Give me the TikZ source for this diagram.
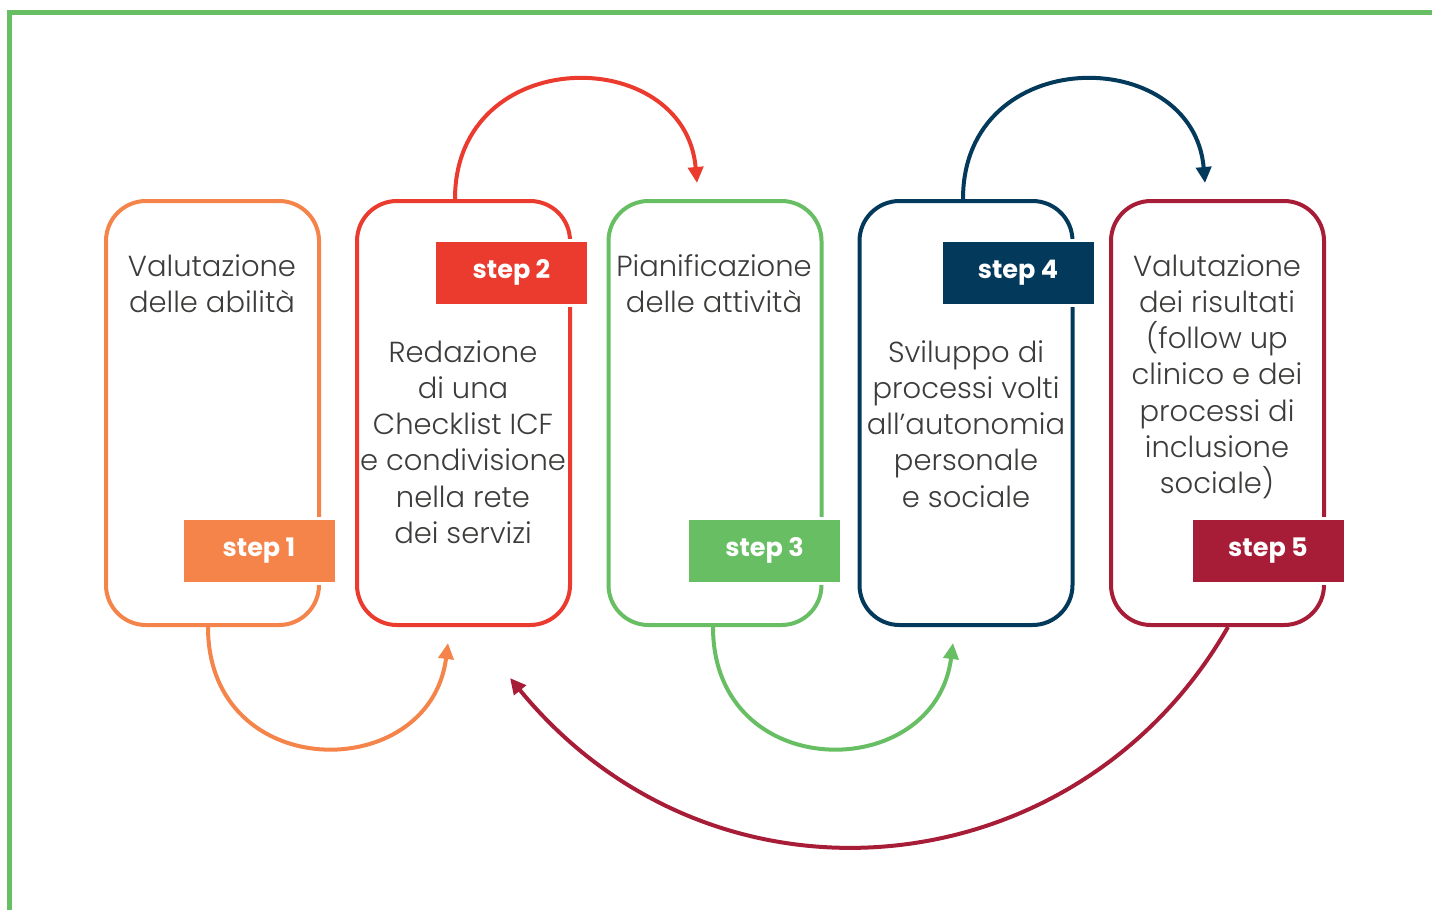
\documentclass[tikz,border=0pt]{standalone}
\usepackage{fontspec}
\setmainfont{Poppins Light}[BoldFont={Poppins Bold}]
\usetikzlibrary{arrows.meta}

\definecolor{frame}{HTML}{67BE63}
\definecolor{stepone}{HTML}{F4844A}
\definecolor{steptwo}{HTML}{EB3A2E}
\definecolor{stepthree}{HTML}{67BE63}
\definecolor{stepfour}{HTML}{033A5C}
\definecolor{stepfive}{HTML}{A71C36}
\definecolor{textgray}{HTML}{3C3C3B}

\tikzset{
  stage/.style={draw=#1, line width=4pt, rounded corners=40pt,
    minimum width=213pt, minimum height=424pt, inner sep=0pt},
  steplabel/.style={fill=#1, draw=white, line width=3pt,
    minimum width=154pt, minimum height=65pt, inner sep=0pt,
    text=white, font=\fontsize{25.5}{25.5}\bfseries},
  stagetext/.style={align=center, inner sep=0pt, anchor=north,
    text=textgray, font=\fontsize{29}{36.3}\selectfont},
  link/.style={draw=#1, line width=4pt,
    -{Triangle[length=16pt,width=15pt]}},
}

\begin{document}
\begin{tikzpicture}[x=1pt,y=-1pt]
  \useasboundingbox (0,0) rectangle (1432,910);
  % outer frame
  \draw[frame, line width=5pt] (9,910) -- (9,12.5) -- (1432,12.5);

  % stages
  \node[stage=stepone]   (b1) at (212.5,413) {};
  \node[stage=steptwo]   (b2) at (463.5,413) {};
  \node[stage=stepthree] (b3) at (715,413) {};
  \node[stage=stepfour]  (b4) at (966,413) {};
  \node[stage=stepfive]  (b5) at (1217.5,413) {};

  \node[stagetext] (t1) at (212,254) {Valutazione\\delle abilità};
  \node[stagetext] (t2) at (463,340) {Redazione\\di una\\Checklist ICF\\e condivisione\\nella rete\\dei servizi};
  \node[stagetext] (t3) at (714,254) {Pianificazione\\delle attività};
  \node[stagetext] (t4) at (966,340) {Sviluppo di\\processi volti\\all’autonomia\\personale\\e sociale};
  \node[stagetext] (t5) at (1217,254) {Valutazione\\dei risultati\\(follow up\\clinico e dei\\processi di\\inclusione\\sociale)};

  % step labels
  \node[steplabel=stepone]   (s1) at (259,550.5)  {\raisebox{-2pt}{step 1}};
  \node[steplabel=steptwo]   (s2) at (511.5,272.5) {\raisebox{-2pt}{step 2}};
  \node[steplabel=stepthree] (s3) at (764.5,550.5) {\raisebox{-2pt}{step 3}};
  \node[steplabel=stepfour]  (s4) at (1018,272.5)  {\raisebox{-2pt}{step 4}};
  \node[steplabel=stepfive]  (s5) at (1268,550.5)  {\raisebox{-2pt}{step 5}};

  % arrow ends
  \coordinate (e1) at ([xshift=-15.5pt,yshift=-16pt]b2.south);
  \coordinate (e2) at ([xshift=-18pt,yshift=16pt]b3.north);
  \coordinate (e3) at ([xshift=-13pt,yshift=-16pt]b4.south);
  \coordinate (e4) at ([xshift=-12.5pt,yshift=16pt]b5.north);
  \coordinate (e5) at ([xshift=46.5pt,yshift=-51pt]b2.south);

  % links
  \draw[link=stepone] ([xshift=-4.5pt]b1.south) .. controls +(0,158) and +(-18,142) .. (e1);
  \draw[link=steptwo] ([xshift=-8.5pt]b2.north) .. controls +(0,-156) and +(-12,-140) .. (e2);
  \draw[link=stepthree] ([xshift=-2pt]b3.south) .. controls +(0,158) and +(-18,142) .. (e3);
  \draw[link=stepfour] ([xshift=-3pt]b4.north) .. controls +(0,-156) and +(-12,-140) .. (e4);
  \draw[link=stepfive] ([xshift=10.5pt]b5.south) .. controls +(-150,262) and +(205,250) .. (e5);
\end{tikzpicture}
\end{document}
